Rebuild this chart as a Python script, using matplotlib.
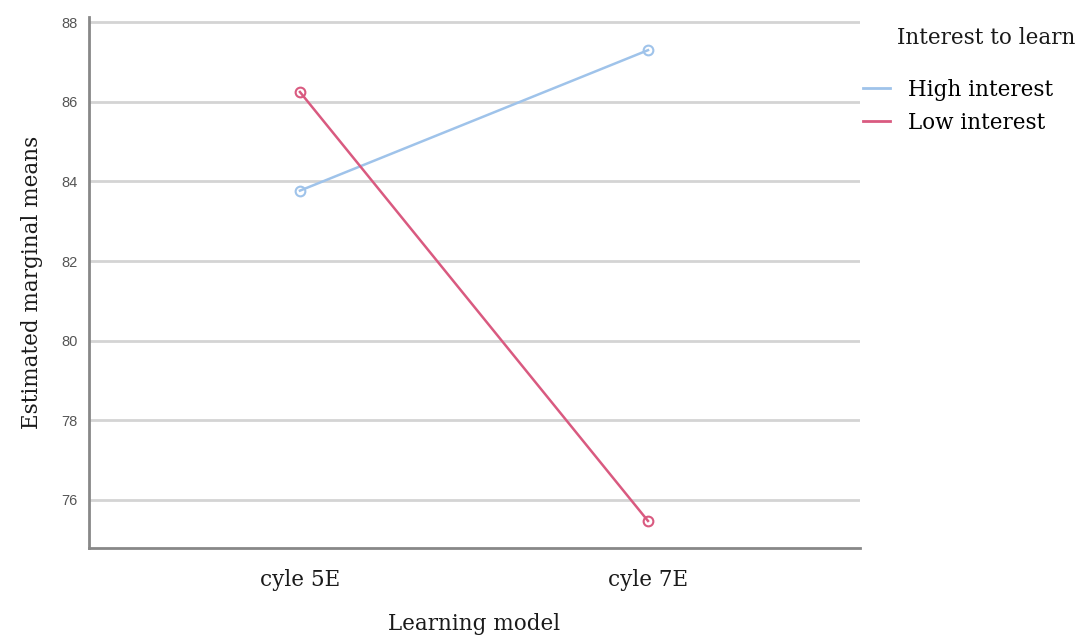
import matplotlib.pyplot as plt
from matplotlib.lines import Line2D

plt.rcParams['figure.dpi'] = 100

# data
models = ['cyle 5E', 'cyle 7E']
high_interest = [83.77, 87.30]
low_interest = [86.25, 75.47]
yticks = [76, 78, 80, 82, 84, 86, 88]

blue = '#9fc3ea'
pink = '#d95a80'
serif = 'DejaVu Serif'
fs = 15.5

fig = plt.figure(figsize=(10.79, 6.35))
ax = fig.add_axes([0.0825, 0.137, 0.7145, 0.836])

x = list(range(len(models)))
ax.plot(x, high_interest, color=blue, lw=1.8, marker='o', ms=7,
        mfc='none', mec=blue, mew=1.5, zorder=3)
ax.plot(x, low_interest, color=pink, lw=1.8, marker='o', ms=7,
        mfc='none', mec=pink, mew=1.5, zorder=3)

ax.set_xlim(-0.606, 1.609)
ax.set_ylim(74.79, 88.13)
ax.set_yticks(yticks)
ax.set_yticklabels([str(v) for v in yticks], family='Liberation Sans', fontsize=10.5)
ax.set_xticks(x)
ax.set_xticklabels(models, fontsize=fs, family=serif, color='#1a1a1a')
ax.tick_params(axis='y', labelcolor='#555555', length=0, pad=8)
ax.tick_params(axis='x', length=0, pad=15)
ax.grid(axis='y', color='#d4d4d4', lw=2)
ax.set_axisbelow(True)

for s in ['top', 'right']:
    ax.spines[s].set_visible(False)
for s in ['left', 'bottom']:
    ax.spines[s].set_color('#888888')
    ax.spines[s].set_linewidth(2)

ax.set_xlabel('Learning model', fontsize=fs, family=serif, labelpad=16, color='#1a1a1a')
ax.set_ylabel('Estimated marginal means', fontsize=fs, family=serif, labelpad=13, color='#1a1a1a')

# legend: plain line handles, title placed separately
handles = [Line2D([], [], color=blue, lw=2), Line2D([], [], color=pink, lw=2)]
fig.legend(handles, ['High interest', 'Low interest'], loc='upper left',
           bbox_to_anchor=(0.80, 0.876), frameon=False,
           prop={'family': serif, 'size': fs}, borderpad=0, borderaxespad=0,
           handlelength=1.25, handletextpad=0.85, labelspacing=0.5)
fig.text(0.914, 0.940, 'Interest to learn', family=serif, fontsize=fs,
         ha='center', va='center', color='#1a1a1a')

plt.savefig('out.png')
